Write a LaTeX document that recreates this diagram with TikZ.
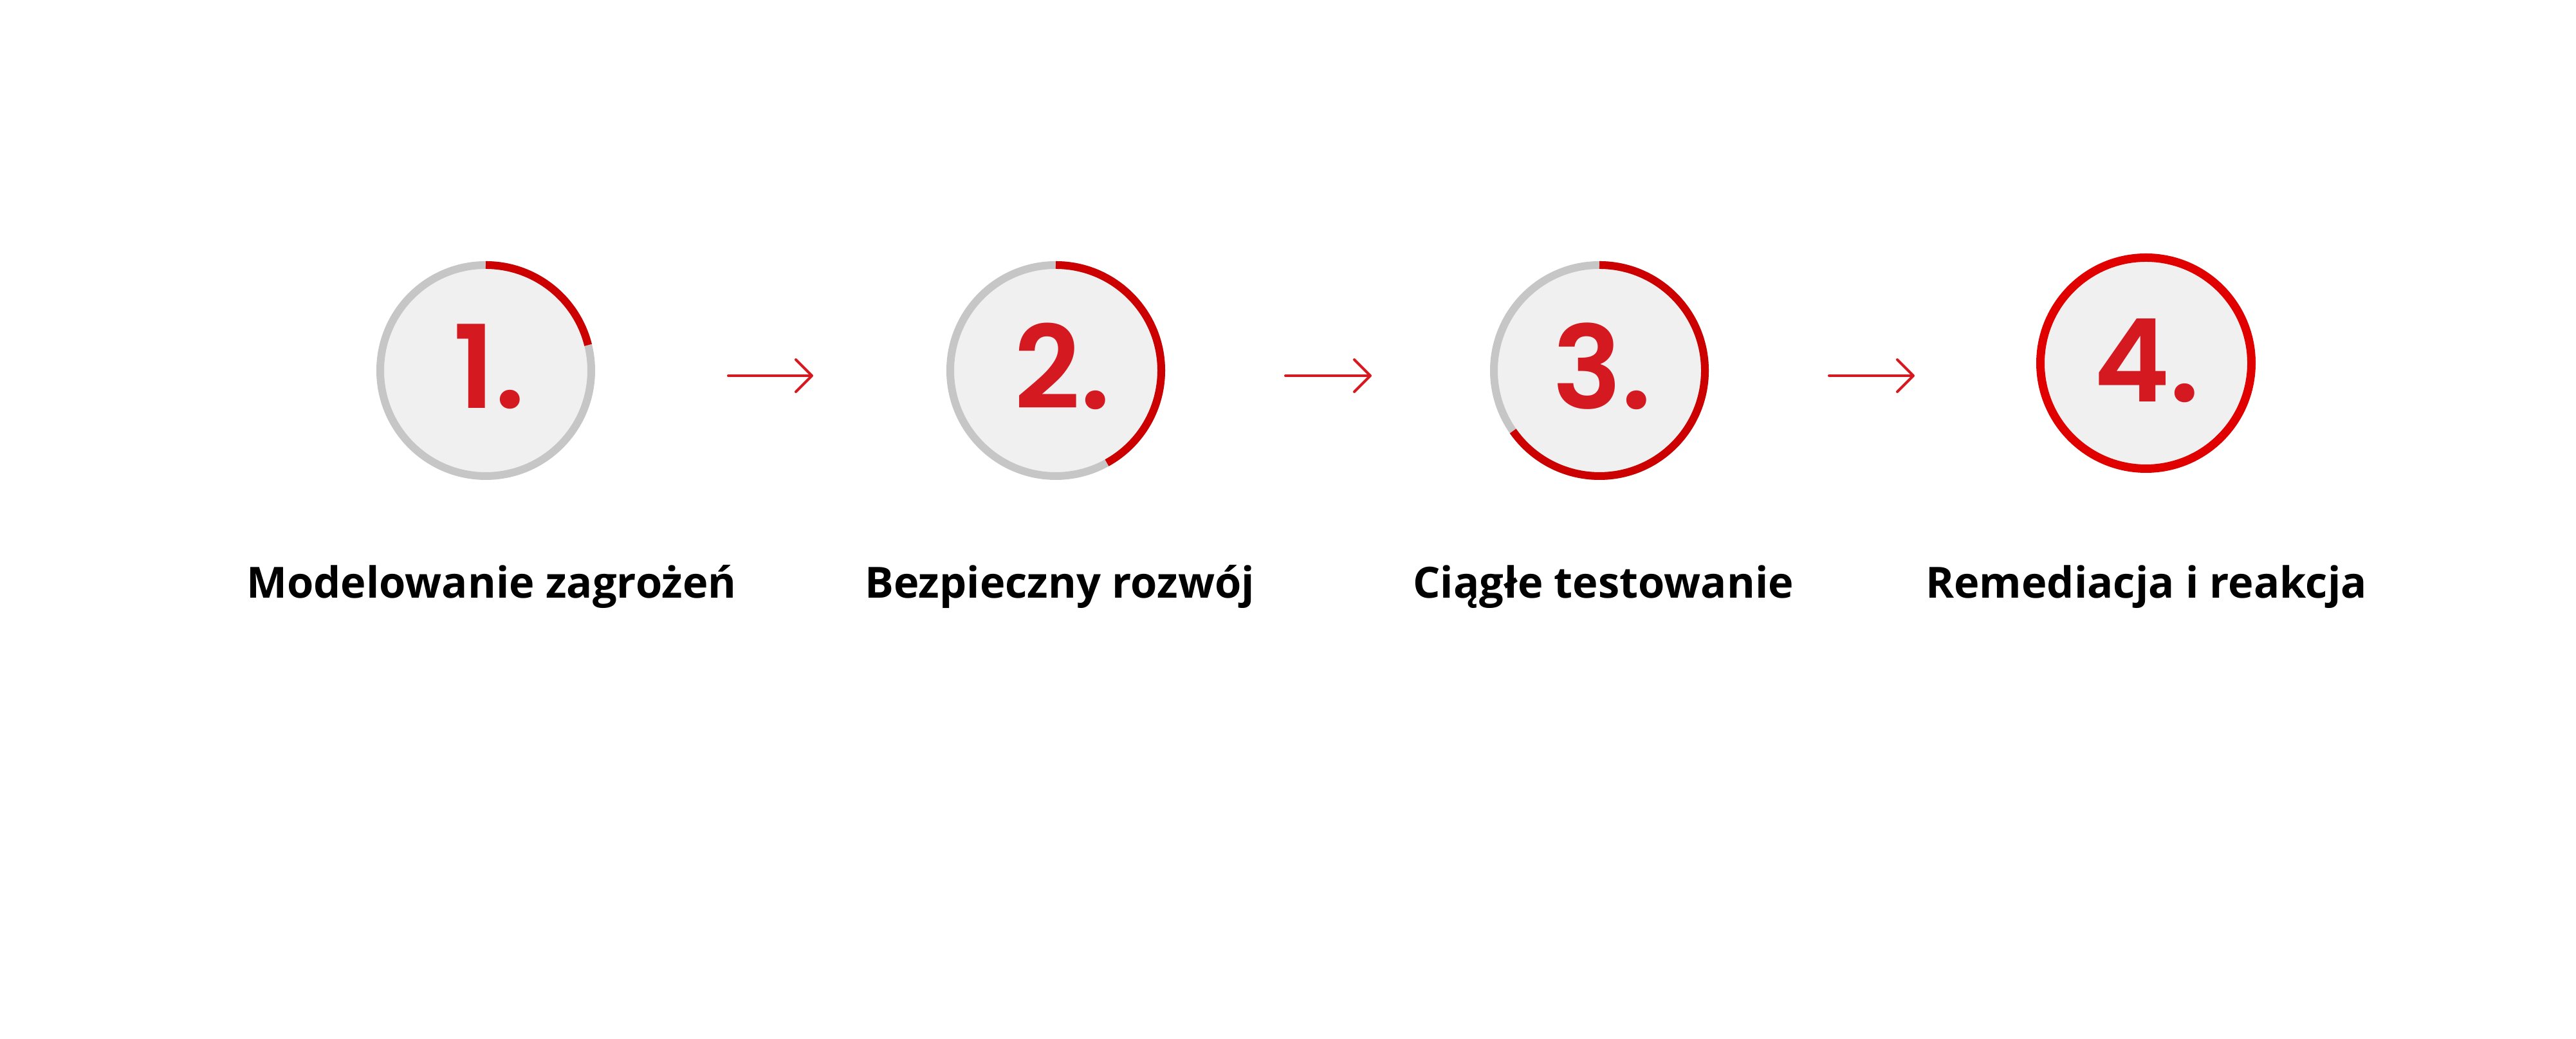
\documentclass[tikz,border=0pt]{standalone}
\usepackage{fontspec}
\setmainfont{Open Sans}
\newfontfamily\numfont{Poppins SemiBold}
\usetikzlibrary{arrows.meta, positioning, calc}
\definecolor{ringgray}{HTML}{C6C6C6}
\definecolor{discfill}{HTML}{F0F0F0}
\definecolor{arcred}{HTML}{CC0000}
\definecolor{fullred}{HTML}{E00000}
\definecolor{numred}{HTML}{D51920}
\tikzset{
    stage/.style={circle, draw=ringgray, fill=discfill, line width=0.12cm,
      minimum size=3.28cm, inner sep=0pt, outer sep=0pt},
    done/.style={draw=fullred, line width=0.13cm},
    progress/.style={draw=arcred, line width=0.12cm},
    num/.style={text=numred, inner sep=0pt,
      font=\numfont\fontsize{51}{51}\selectfont},
    caption/.style={anchor=base, inner sep=0pt,
      font=\bfseries\fontsize{19}{19}\selectfont},
    flow/.style={draw=numred, line width=0.04cm, line cap=round,
      -{Straight Barb[length=0.25cm, width=0.5cm, round]}},
}

\begin{document}
\begin{tikzpicture}
    \useasboundingbox (0,0) rectangle (40.04,16.15);

    \node[stage] (c1) at (7.55,10.39) {};
    \node[stage] (c2) at (16.41,10.39) {};
    \node[stage] (c3) at (24.86,10.39) {};
    \node[stage, done] (c4) at (33.355,10.505) {};

    \draw[progress] (c1.north) arc[start angle=90, end angle=14, radius=1.64cm];
    \draw[progress] (c2.north) arc[start angle=90, end angle=-61, radius=1.64cm];
    \draw[progress] (c3.north) arc[start angle=90, end angle=-145, radius=1.64cm];

    \node[num] (d1) at ([shift={(0.05,0.065)}]c1) {1.};
    \node[num] (d2) at ([shift={(0.10,0.07)}]c2) {2.};
    \node[num] (d3) at ([shift={(0.04,0.07)}]c3) {3.};
    \node[num] (d4) at ([shift={(0.015,0.04)}]c4) {4.};

    \coordinate (a1s) at (11.32,10.31);
    \coordinate (a1e) at (12.64,10.31);
    \coordinate (a2s) at (19.98,10.31);
    \coordinate (a2e) at (21.32,10.31);
    \coordinate (a3s) at (28.43,10.31);
    \coordinate (a3e) at (29.76,10.31);

    \draw[flow] (a1s) -- (a1e);
    \draw[flow] (a2s) -- (a2e);
    \draw[flow] (a3s) -- (a3e);

    \node[caption] (t1) at (7.64,6.85) {Modelowanie zagrożeń};
    \node[caption] (t2) at (16.47,6.85) {Bezpieczny rozwój};
    \node[caption] (t3) at (24.92,6.85) {Ciągłe testowanie};
    \node[caption] (t4) at (33.36,6.85) {Remediacja i reakcja};

\end{tikzpicture}
\end{document}
